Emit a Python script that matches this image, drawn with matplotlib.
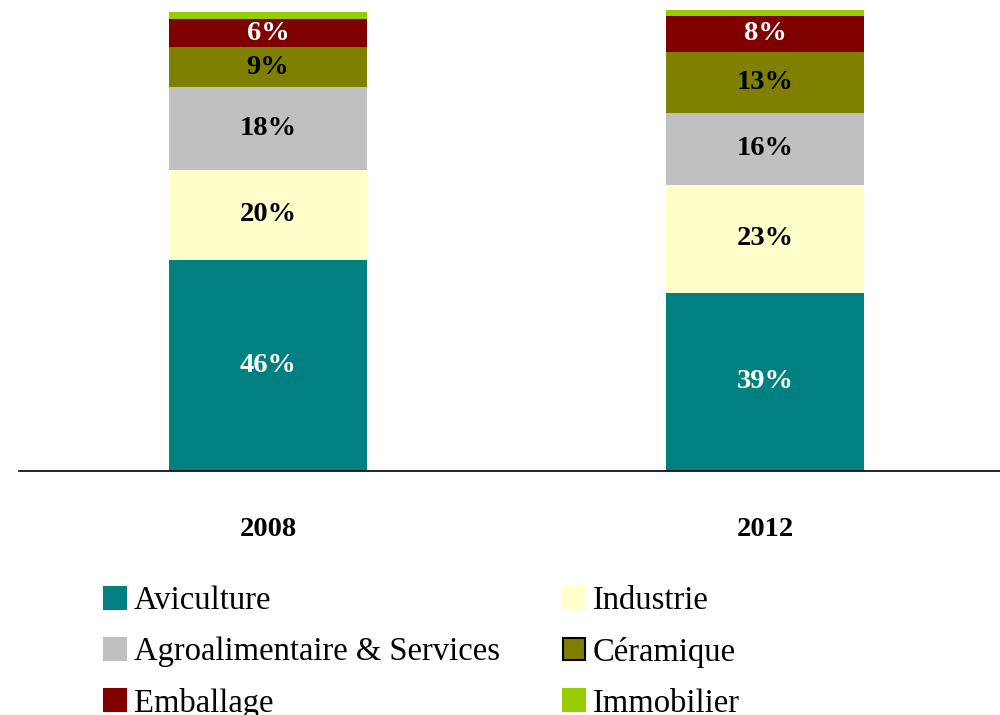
import matplotlib.pyplot as plt
from matplotlib.patches import Patch

plt.rcParams['font.family'] = ['Liberation Serif', 'DejaVu Serif']

years = ['2008', '2012']
secteurs = ['Aviculture', 'Industrie', 'Agroalimentaire & Services',
            'Céramique', 'Emballage', 'Immobilier']
aviculture = [46.0, 38.8]
industrie = [19.6, 23.5]
agro = [18.0, 15.7]
ceramique = [8.7, 13.3]
emballage = [6.1, 7.8]
immobilier = [1.5, 1.3]
labels_2008 = ['46%', '20%', '18%', '9%', '6%', '']
labels_2012 = ['39%', '23%', '16%', '13%', '8%', '']

colors = ['#008080', '#FFFFCC', '#C0C0C0', '#808000', '#800000', '#99CC00']
text_colors = ['white', 'black', 'black', 'black', 'white', 'black']

series = [aviculture, industrie, agro, ceramique, emballage, immobilier]

fig = plt.figure(figsize=(10, 7.15), dpi=100)
ax = fig.add_axes([0.0195, 0.3413, 0.994, 471 / 715])

x = [0, 1]
bottom = [0, 0]
for i, vals in enumerate(series):
    bars = ax.bar(x, vals, width=0.4, bottom=bottom, color=colors[i],
                  label=secteurs[i])
    ax.bar_label(bars, labels=[labels_2008[i], labels_2012[i]],
                 label_type='center', color=text_colors[i],
                 fontsize=20.5, fontweight='bold')
    bottom = [bottom[j] + vals[j] for j in range(2)]

ax.set_xlim(-0.5, 1.5)
ax.set_ylim(0, 102.6)
ax.set_xticks(x)
ax.set_xticklabels(years, fontsize=20.5, fontweight='bold')
ax.tick_params(axis='x', length=0, pad=33)
ax.set_yticks([])
for s in ['left', 'right', 'top']:
    ax.spines[s].set_visible(False)
ax.spines['bottom'].set_linewidth(1.2)

# legende : ordre colonne par colonne
order = [0, 2, 4, 1, 3, 5]
handles = []
for k in order:
    ec = 'black' if secteurs[k] == 'Céramique' else colors[k]
    handles.append(Patch(facecolor=colors[k], edgecolor=ec, linewidth=1.5,
                         label=secteurs[k]))
fig.legend(handles=handles, ncol=2, loc='upper left',
           bbox_to_anchor=(0.104, 0.181), frameon=False,
           fontsize=23.5, handlelength=0.67, handleheight=0.67,
           handletextpad=0.25, labelspacing=0.63, columnspacing=1.92,
           borderaxespad=0, borderpad=0)

fig.savefig('out.png')
